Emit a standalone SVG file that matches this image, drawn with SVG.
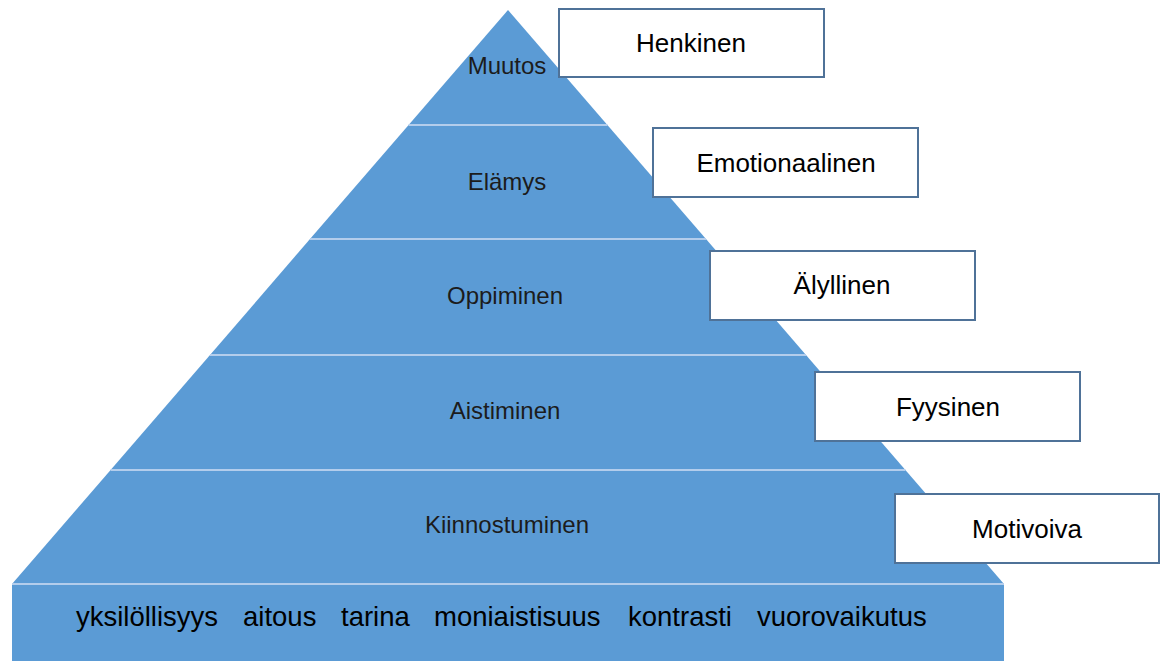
<svg xmlns="http://www.w3.org/2000/svg" width="1162" height="661" viewBox="0 0 1162 661">
<style>
.tier{fill:#5b9bd5;}
.sep{stroke:#b3cdec;stroke-width:2;fill:none;}
.lbl{font-family:"Liberation Sans",Arial,sans-serif;font-size:24px;fill:#1c1c1c;text-anchor:middle;}
.box rect{fill:#ffffff;stroke:#4f7298;stroke-width:2;}
.box text{font-family:"Liberation Sans",Arial,sans-serif;font-size:26px;fill:#000000;text-anchor:middle;}
.base{font-family:"Liberation Sans",Arial,sans-serif;font-size:27.5px;fill:#000000;}
</style>
<rect width="1162" height="661" fill="#ffffff"/>
<g id="tier-muutos">
<polygon class="tier" points="508,10 607.4,125 408.6,125"/>
<text class="lbl" x="507" y="74">Muutos</text>
</g>
<g id="tier-elamys">
<polygon class="tier" points="408.6,125 607.4,125 706,239 310,239"/>
<text class="lbl" x="507" y="190">Elämys</text>
</g>
<g id="tier-oppiminen">
<polygon class="tier" points="310,239 706,239 806,355 210,355"/>
<text class="lbl" x="505" y="304">Oppiminen</text>
</g>
<g id="tier-aistiminen">
<polygon class="tier" points="210,355 806,355 905.4,470 110.6,470"/>
<text class="lbl" x="505" y="419">Aistiminen</text>
</g>
<g id="tier-kiinnostuminen">
<polygon class="tier" points="110.6,470 905.4,470 1004,584 12,584"/>
<text class="lbl" x="507" y="533">Kiinnostuminen</text>
</g>
<g id="base">
<rect class="tier" x="12" y="584" width="992" height="77"/>
<text class="base" y="626"><tspan x="76">yksilöllisyys</tspan><tspan x="243">aitous</tspan><tspan x="341">tarina</tspan><tspan x="434">moniaistisuus</tspan><tspan x="628">kontrasti</tspan><tspan x="757">vuorovaikutus</tspan></text>
</g>
<g id="separators">
<line class="sep" x1="408.6" y1="125" x2="607.4" y2="125"/>
<line class="sep" x1="310" y1="239" x2="706" y2="239"/>
<line class="sep" x1="210" y1="355" x2="806" y2="355"/>
<line class="sep" x1="110.6" y1="470" x2="905.4" y2="470"/>
<line class="sep" x1="12" y1="584" x2="1004" y2="584"/>
</g>
<g id="box-henkinen" class="box">
<rect x="559" y="9" width="265" height="68"/>
<text x="691" y="52">Henkinen</text>
</g>
<g id="box-emotionaalinen" class="box">
<rect x="653" y="128" width="265" height="69"/>
<text x="786" y="172">Emotionaalinen</text>
</g>
<g id="box-alyllinen" class="box">
<rect x="710" y="251" width="265" height="69"/>
<text x="842" y="294">Älyllinen</text>
</g>
<g id="box-fyysinen" class="box">
<rect x="815" y="372" width="265" height="69"/>
<text x="948" y="416">Fyysinen</text>
</g>
<g id="box-motivoiva" class="box">
<rect x="895" y="494" width="264" height="69"/>
<text x="1027" y="538">Motivoiva</text>
</g>
</svg>
